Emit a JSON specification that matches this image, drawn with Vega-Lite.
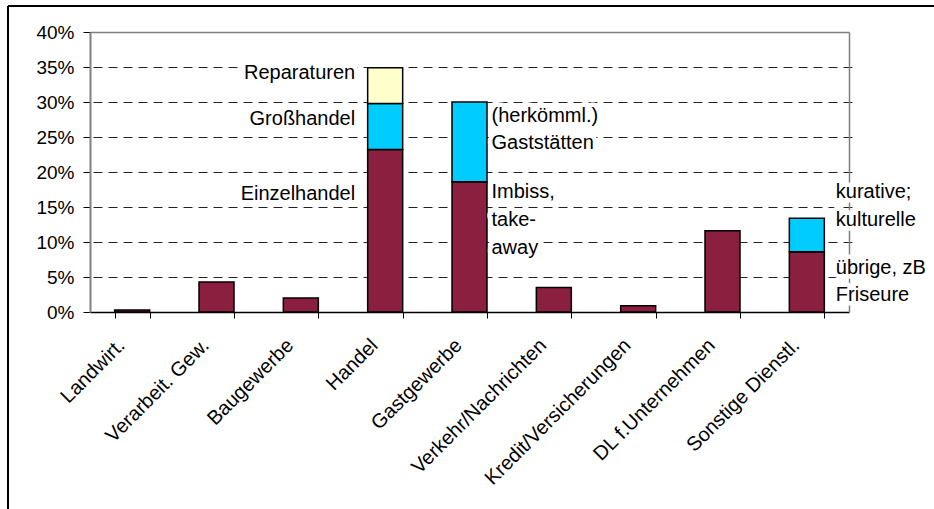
{
  "$schema": "https://vega.github.io/schema/vega-lite/v6.json",
  "autosize": {"type": "none"},
  "padding": {"left": 8, "top": 6, "right": 0, "bottom": 0},
  "width": 926,
  "height": 503,
  "background": "white",
  "config": {
    "view": {"stroke": "black", "strokeWidth": 2, "strokeDash": [926, 1429, 503, 0]},
    "font": "Liberation Sans",
    "axis": {"labelFont": "Liberation Sans", "labelColor": "black", "title": null}
  },
  "datasets": {
    "bars": [
      {"cat": "Landwirt.", "seg": 1, "value": 0.3},
      {"cat": "Verarbeit. Gew.", "seg": 1, "value": 4.3},
      {"cat": "Baugewerbe", "seg": 1, "value": 2.0},
      {"cat": "Handel", "seg": 1, "value": 23.2},
      {"cat": "Handel", "seg": 2, "value": 6.6},
      {"cat": "Handel", "seg": 3, "value": 5.1},
      {"cat": "Gastgewerbe", "seg": 1, "value": 18.6},
      {"cat": "Gastgewerbe", "seg": 2, "value": 11.4},
      {"cat": "Verkehr/Nachrichten", "seg": 1, "value": 3.5},
      {"cat": "Kredit/Versicherungen", "seg": 1, "value": 0.9},
      {"cat": "DL f.Unternehmen", "seg": 1, "value": 11.6},
      {"cat": "Sonstige Dienstl.", "seg": 1, "value": 8.6},
      {"cat": "Sonstige Dienstl.", "seg": 2, "value": 4.8}
    ],
    "labels": [
      {"cat": "Handel", "grp": "a", "line": "Reparaturen", "ly": 34.1},
      {"cat": "Handel", "grp": "a", "line": "Großhandel", "ly": 27.6},
      {"cat": "Handel", "grp": "a", "line": "Einzelhandel", "ly": 16.9},
      {"cat": "Gastgewerbe", "grp": "b", "line": "(herkömml.)", "ly": 28.0},
      {"cat": "Gastgewerbe", "grp": "b", "line": "Gaststätten", "ly": 24.2},
      {"cat": "Gastgewerbe", "grp": "b", "line": "Imbiss,", "ly": 17.2},
      {"cat": "Gastgewerbe", "grp": "b", "line": "take-", "ly": 13.1},
      {"cat": "Gastgewerbe", "grp": "b", "line": "away", "ly": 9.1},
      {"cat": "Sonstige Dienstl.", "grp": "c", "line": "kurative;", "ly": 17.2},
      {"cat": "Sonstige Dienstl.", "grp": "c", "line": "kulturelle", "ly": 13.2},
      {"cat": "Sonstige Dienstl.", "grp": "c", "line": "übrige, zB", "ly": 6.3},
      {"cat": "Sonstige Dienstl.", "grp": "c", "line": "Friseure", "ly": 2.5}
    ]
  },
  "layer": [
    {
      "data": {"name": "bars"},
      "mark": {"type": "bar", "stroke": "black", "strokeWidth": 1.5},
      "encoding": {
        "x": {
          "field": "cat", "type": "nominal", "sort": null,
          "scale": {"domain": ["Landwirt.", "Verarbeit. Gew.", "Baugewerbe", "Handel", "Gastgewerbe", "Verkehr/Nachrichten", "Kredit/Versicherungen", "DL f.Unternehmen", "Sonstige Dienstl."], "range": [82, 841], "paddingInner": 0.585, "paddingOuter": 0.2925},
          "axis": {"orient": "bottom", "offset": -197, "tickBand": "extent", "tickSize": 6, "tickColor": "black", "domainColor": "black", "domainWidth": 1.5, "labelAngle": -45, "labelAlign": "right", "labelBaseline": "middle", "labelFontSize": 20, "labelPadding": 24, "labelOffset": -11, "labelLimit": 0, "grid": false}
        },
        "y": {
          "field": "value", "type": "quantitative", "stack": "zero",
          "scale": {"domain": [0, 40], "range": [306, 26], "nice": false},
          "axis": {"orient": "left", "offset": -82, "values": [0, 5, 10, 15, 20, 25, 30, 35, 40], "labelExpr": "datum.value + '%'", "tickSize": 7, "tickColor": "black", "domainColor": "#808080", "domainWidth": 2, "labelFontSize": 19, "labelPadding": 9, "grid": false}
        },
        "color": {"field": "seg", "type": "ordinal", "scale": {"domain": [1, 2, 3], "range": ["#8A1F3F", "#00CCFF", "#FFFFCC"]}, "legend": null},
        "order": {"field": "seg", "type": "quantitative"}
      }
    },
    {
      "data": {"name": "labels"},
      "transform": [{"filter": "datum.grp == 'a'"}],
      "mark": {"type": "text", "align": "right", "baseline": "middle", "dx": -30, "fontSize": 20, "stroke": "white", "strokeWidth": 9, "strokeJoin": "round", "fill": "white"},
      "encoding": {
        "x": {"field": "cat", "type": "nominal", "sort": null,
          "scale": {"domain": ["Landwirt.", "Verarbeit. Gew.", "Baugewerbe", "Handel", "Gastgewerbe", "Verkehr/Nachrichten", "Kredit/Versicherungen", "DL f.Unternehmen", "Sonstige Dienstl."], "range": [82, 841], "paddingInner": 0.585, "paddingOuter": 0.2925},
          "axis": {"orient": "top", "offset": -26, "domainColor": "#808080", "domainWidth": 1.5, "ticks": false, "labels": false, "grid": false}},
        "y": {"field": "ly", "type": "quantitative", "stack": null,
          "scale": {"domain": [0, 40], "range": [306, 26], "nice": false},
          "axis": {"orient": "right", "offset": -85, "values": [5, 10, 15, 20, 25, 30, 35], "ticks": false, "labels": false, "domainColor": "#808080", "domainWidth": 1.5, "grid": true, "gridColor": "#222222", "gridDash": [9, 6], "gridWidth": 1}},
        "text": {"field": "line"}
      }
    },
    {
      "data": {"name": "labels"},
      "transform": [{"filter": "datum.grp == 'b'"}],
      "mark": {"type": "text", "align": "left", "baseline": "middle", "dx": 22, "fontSize": 20, "stroke": "white", "strokeWidth": 9, "strokeJoin": "round", "fill": "white"},
      "encoding": {
        "x": {"field": "cat", "type": "nominal", "sort": null, "axis": null},
        "y": {"field": "ly", "type": "quantitative", "stack": null, "axis": null},
        "text": {"field": "line"}
      }
    },
    {
      "data": {"name": "labels"},
      "transform": [{"filter": "datum.grp == 'c'"}],
      "mark": {"type": "text", "align": "left", "baseline": "middle", "dx": 29, "fontSize": 20, "stroke": "white", "strokeWidth": 9, "strokeJoin": "round", "fill": "white"},
      "encoding": {
        "x": {"field": "cat", "type": "nominal", "sort": null, "axis": null},
        "y": {"field": "ly", "type": "quantitative", "stack": null, "axis": null},
        "text": {"field": "line"}
      }
    },
    {
      "data": {"name": "labels"},
      "transform": [{"filter": "datum.grp == 'a'"}],
      "mark": {"type": "text", "align": "right", "baseline": "middle", "dx": -30, "fontSize": 20, "fill": "black"},
      "encoding": {
        "x": {"field": "cat", "type": "nominal", "sort": null, "axis": null},
        "y": {"field": "ly", "type": "quantitative", "stack": null, "axis": null},
        "text": {"field": "line"}
      }
    },
    {
      "data": {"name": "labels"},
      "transform": [{"filter": "datum.grp == 'b'"}],
      "mark": {"type": "text", "align": "left", "baseline": "middle", "dx": 22, "fontSize": 20, "fill": "black"},
      "encoding": {
        "x": {"field": "cat", "type": "nominal", "sort": null, "axis": null},
        "y": {"field": "ly", "type": "quantitative", "stack": null, "axis": null},
        "text": {"field": "line"}
      }
    },
    {
      "data": {"name": "labels"},
      "transform": [{"filter": "datum.grp == 'c'"}],
      "mark": {"type": "text", "align": "left", "baseline": "middle", "dx": 29, "fontSize": 20, "fill": "black"},
      "encoding": {
        "x": {"field": "cat", "type": "nominal", "sort": null, "axis": null},
        "y": {"field": "ly", "type": "quantitative", "stack": null, "axis": null},
        "text": {"field": "line"}
      }
    }
  ],
  "resolve": {"axis": {"x": "independent", "y": "independent"}}
}
